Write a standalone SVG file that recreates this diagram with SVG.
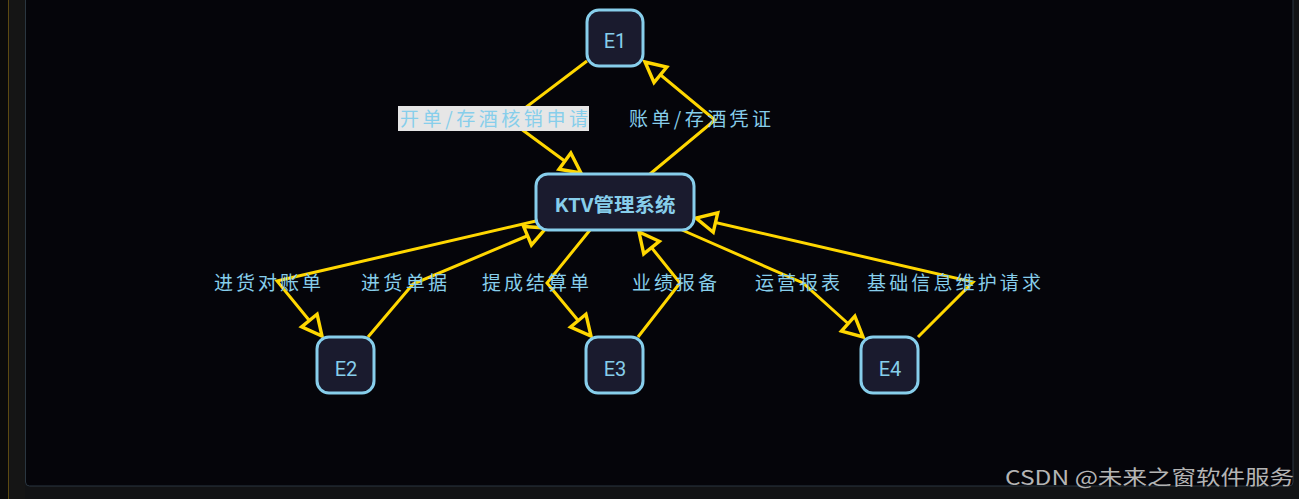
<svg xmlns="http://www.w3.org/2000/svg" width="1299" height="499" viewBox="0 0 1299 499">
<style>
.flow{fill:none;stroke:#FFD700;stroke-width:3;stroke-linejoin:miter;marker-end:url(#arr)}
.lbl{font-family:"Noto Sans CJK SC","Noto Sans",sans-serif;font-size:19px;fill:#87ceeb;text-anchor:start}
.box{fill:#1a1b2e;stroke:#87ceeb;stroke-width:3}
.ntx{font-family:Roboto,"Noto Sans","Noto Sans CJK SC",sans-serif;font-size:20px;fill:#87ceeb;text-anchor:middle}
</style>
<defs>
<marker id="arr" markerUnits="userSpaceOnUse" viewBox="-3 -3 28 26" markerWidth="28" markerHeight="26" refX="20" refY="10" orient="auto">
<path d="M0,0 L20,10 L0,20 Z" fill="#05050a" stroke="#FFD700" stroke-width="3.4" stroke-linejoin="miter"/>
</marker>
</defs>
<rect x="0" y="0" width="1299" height="499" fill="#121315"/>
<rect x="0" y="0" width="8" height="499" fill="#0b0b0b"/>
<line x1="8.5" y1="0" x2="8.5" y2="499" stroke="#5c4a12" stroke-width="1"/>
<rect x="9" y="0" width="16" height="499" fill="#151515"/>
<path d="M25.5,-1 V482 Q25.5,486 29.5,486 H1289 Q1293,486 1293,482 V-1" fill="#05050a" stroke="#2a3640" stroke-width="1"/>
<g id="connectors">
<polyline class="flow" points="587,61 509,120 581,173"/>
<polyline class="flow" points="650,174 715,120 645,62"/>
<polyline class="flow" points="536,221 277,281 322,336"/>
<polyline class="flow" points="368,337 413,284 546,228"/>
<polyline class="flow" points="590,230 547,283 591,336"/>
<polyline class="flow" points="638,337 680,283 639,232"/>
<polyline class="flow" points="682,230 803,283 863,337"/>
<polyline class="flow" points="918,337 973,282 696,218"/>
<rect x="398" y="106" width="191" height="25" fill="#e6e6e6"/>
<text class="lbl" x="400" y="126" textLength="188" lengthAdjust="spacing">开单/存酒核销申请</text>
<text class="lbl" x="629" y="126" textLength="142" lengthAdjust="spacing">账单/存酒凭证</text>
<text class="lbl" x="214" y="290" textLength="107" lengthAdjust="spacing">进货对账单</text>
<text class="lbl" x="361" y="290" textLength="86" lengthAdjust="spacing">进货单据</text>
<text class="lbl" x="482" y="290" textLength="107" lengthAdjust="spacing">提成结算单</text>
<text class="lbl" x="632" y="290" textLength="85" lengthAdjust="spacing">业绩报备</text>
<text class="lbl" x="755" y="290" textLength="85" lengthAdjust="spacing">运营报表</text>
<text class="lbl" x="867" y="290" textLength="174" lengthAdjust="spacing">基础信息维护请求</text>
</g>
<g id="E1">
<rect class="box" x="587" y="10" width="56" height="56" rx="12"/>
<text class="ntx" x="615" y="48">E1</text>
</g>
<g id="KTV">
<rect class="box" x="536" y="174" width="158" height="56" rx="12"/>
<text class="ntx" x="615" y="212" font-weight="bold" style="font-family:'Noto Sans CJK SC',sans-serif;font-size:19px" textLength="121" lengthAdjust="spacingAndGlyphs">KTV管理系统</text>
</g>
<g id="E2">
<rect class="box" x="317" y="337" width="57" height="56" rx="12"/>
<text class="ntx" x="346" y="376">E2</text>
</g>
<g id="E3">
<rect class="box" x="586" y="337" width="57" height="56" rx="12"/>
<text class="ntx" x="615" y="376">E3</text>
</g>
<g id="E4">
<rect class="box" x="861" y="337" width="57" height="56" rx="12"/>
<text class="ntx" x="890" y="376">E4</text>
</g>
<text x="1005" y="485" font-family="'Noto Sans CJK SC','Noto Sans',sans-serif" font-size="20" fill="#b4b4b4" textLength="289" lengthAdjust="spacingAndGlyphs">CSDN @未来之窗软件服务</text>
</svg>
